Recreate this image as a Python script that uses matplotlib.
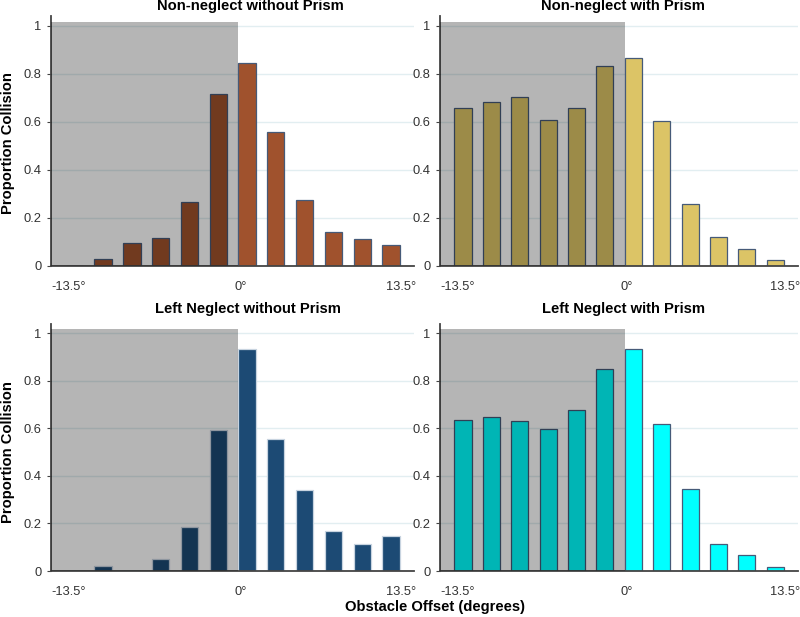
import matplotlib
matplotlib.use('Agg')
import matplotlib.pyplot as plt
from matplotlib.patches import Rectangle
import numpy as np

plt.rcParams['font.family'] = ['Liberation Sans', 'DejaVu Sans']

# 12 obstacle offset bins, left (-13.5 deg) to right (13.5 deg)
n_bins = 12
tick_labels = ['-13.5\u00b0', '0\u00b0', '13.5\u00b0']

titles = ['Non-neglect without Prism', 'Non-neglect with Prism',
          'Left Neglect without Prism', 'Left Neglect with Prism']

nonneglect_no_prism = [0.0, 0.03, 0.095, 0.115, 0.265, 0.715,
                       0.845, 0.558, 0.275, 0.143, 0.112, 0.086]
nonneglect_prism = [0.657, 0.684, 0.705, 0.608, 0.657, 0.834,
                    0.868, 0.604, 0.259, 0.12, 0.071, 0.025]
neglect_no_prism = [0.0, 0.02, 0.0, 0.049, 0.185, 0.594,
                    0.934, 0.555, 0.339, 0.167, 0.112, 0.146]
neglect_prism = [0.634, 0.648, 0.631, 0.595, 0.677, 0.848,
                 0.932, 0.619, 0.346, 0.113, 0.066, 0.018]

series = [nonneglect_no_prism, nonneglect_prism, neglect_no_prism, neglect_prism]
colors = ['#a0522d', '#dcc466', '#1c4a74', '#00ffff']
edges = ['#465a78', '#465a78', '#c8d4e0', '#465a78']

W, H = 800, 617
fig = plt.figure(figsize=(8, 6.17), dpi=100)

# axes boxes in pixels: left, right, top, bottom
boxes = [(51, 414, 16.4, 266), (440, 798, 16.4, 266),
         (51, 414, 323.5, 571), (440, 798, 323.5, 571)]
title_pos = [(250, 6), (623, 6), (248, 309), (624, 309)]

x = np.arange(n_bins)
xlim = (-0.81, 11.8)
bar_w = 0.6

for i in range(4):
    l, r, t, b = boxes[i]
    ax = fig.add_axes([l / W, 1 - b / H, (r - l) / W, (b - t) / H])
    ax.bar(x, series[i], width=bar_w, color=colors[i], edgecolor=edges[i],
           linewidth=0.9, zorder=2)
    # shaded left hemifield
    ax.add_patch(Rectangle((xlim[0], 0), 6 - bar_w / 2 - xlim[0], 1.015,
                           facecolor='black', alpha=0.29, edgecolor='none', zorder=3))
    ax.set_xlim(*xlim)
    ax.set_ylim(0, 1.04)
    ax.set_yticks([0, 0.2, 0.4, 0.6, 0.8, 1])
    ax.set_yticklabels(['0', '0.2', '0.4', '0.6', '0.8', '1'])
    ax.set_xticks([-0.2, 5.77, 11.34])
    ax.set_xticklabels(tick_labels)
    ax.yaxis.grid(True, color='#e2eef1', linewidth=1, zorder=0)
    ax.set_axisbelow(True)
    for s in ['top', 'right']:
        ax.spines[s].set_visible(False)
    for s in ['left', 'bottom']:
        ax.spines[s].set_color('#444444')
        ax.spines[s].set_linewidth(1.3)
    ax.tick_params(axis='y', length=3, color='#444444', labelsize=9.3,
                   labelcolor='#333333', pad=4)
    ax.tick_params(axis='x', length=0, labelsize=9.3, labelcolor='#333333', pad=11)
    tx, ty = title_pos[i]
    fig.text(tx / W, 1 - ty / H, titles[i], ha='center', va='center',
             fontsize=10.6, fontweight='bold')

fig.text(8 / W, 1 - 143 / H, 'Proportion Collision', rotation=90, ha='center',
         va='center', fontsize=10.6, fontweight='bold')
fig.text(8 / W, 1 - 452 / H, 'Proportion Collision', rotation=90, ha='center',
         va='center', fontsize=10.6, fontweight='bold')
fig.text(435 / W, 1 - 607 / H, 'Obstacle Offset (degrees)', ha='center',
         va='center', fontsize=10.6, fontweight='bold')

fig.savefig('out.png', dpi=100)
